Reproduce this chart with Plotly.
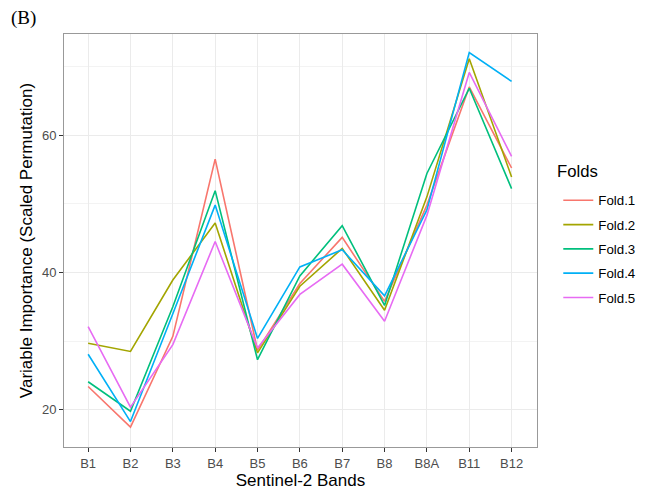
import plotly.graph_objects as go

bands = ["B1", "B2", "B3", "B4", "B5", "B6", "B7", "B8", "B8A", "B11", "B12"]
fold1 = [23.4, 17.5, 30.7, 56.5, 28.7, 38.4, 45.1, 35.8, 49.8, 67.0, 55.2]
fold2 = [29.7, 28.5, 38.9, 47.2, 28.3, 38.0, 43.5, 34.5, 51.0, 71.1, 53.9]
fold3 = [24.1, 19.8, 35.0, 51.9, 27.3, 39.5, 46.8, 35.2, 54.4, 66.8, 52.2]
fold4 = [28.1, 18.3, 34.0, 49.8, 30.4, 40.8, 43.3, 36.6, 49.1, 72.0, 67.8]
fold5 = [32.1, 20.4, 29.5, 44.5, 29.0, 36.8, 41.2, 32.9, 48.3, 69.1, 56.9]
names = ["Fold.1", "Fold.2", "Fold.3", "Fold.4", "Fold.5"]
colors = ["#F8766D", "#A3A500", "#00BF7D", "#00B0F6", "#E76BF3"]

fig = go.Figure()
for i, (nm, vals) in enumerate(zip(names, [fold1, fold2, fold3, fold4, fold5])):
    fig.add_trace(go.Scatter(x=bands, y=vals, mode="lines", name=nm,
                             legendgroup=nm,
                             line=dict(color=colors[i], width=1.6)))

grid = "#EBEBEB"
fig.update_layout(
    width=646, height=489,
    margin=dict(l=56, r=117, t=26, b=50),
    paper_bgcolor="white", plot_bgcolor="white",
    font=dict(family="Liberation Sans, Arial, sans-serif", color="#000000"),
    showlegend=True,
    legend=dict(x=1.045, xanchor="left", y=0.634, yanchor="top",
                font=dict(size=13.3, color="#000"), tracegroupgap=4,
                bgcolor="rgba(0,0,0,0)"),
    xaxis=dict(type="category", range=[-0.57, 10.6],
               showgrid=True, gridcolor=grid, gridwidth=1,
               ticks="outside", ticklen=4, tickcolor="#333333",
               tickfont=dict(size=13, color="#4D4D4D"),
               showline=True, linecolor="#999999", mirror=True, linewidth=1,
               title=dict(text="Sentinel-2 Bands", font=dict(size=17), standoff=2),
               zeroline=False),
    yaxis=dict(range=[14.6, 74.7], tickvals=[20, 40, 60],
               showgrid=True, gridcolor=grid, gridwidth=1,
               minor=dict(tickvals=[30, 50, 70], showgrid=True, gridcolor="#F3F3F3", gridwidth=1, ticks=""),
               ticks="outside", ticklen=4, tickcolor="#333333",
               tickfont=dict(size=13, color="#4D4D4D"),
               showline=True, linecolor="#999999", mirror=True, linewidth=1,
               title=dict(text="Variable Importance (Scaled Permutation)", font=dict(size=17), standoff=4),
               zeroline=False),
)
fig.add_annotation(text="Folds", xref="paper", yref="paper", x=1.038, y=0.668,
                   xanchor="left", yanchor="middle", showarrow=False,
                   font=dict(size=16.7, color="#000"))
fig.add_annotation(text="(B)", xref="paper", yref="paper", x=-0.116, y=1.039,
                   xanchor="left", yanchor="middle", showarrow=False,
                   font=dict(family="Liberation Serif, Times New Roman, serif", size=19, color="#000"))
fig.write_html("out.html")
